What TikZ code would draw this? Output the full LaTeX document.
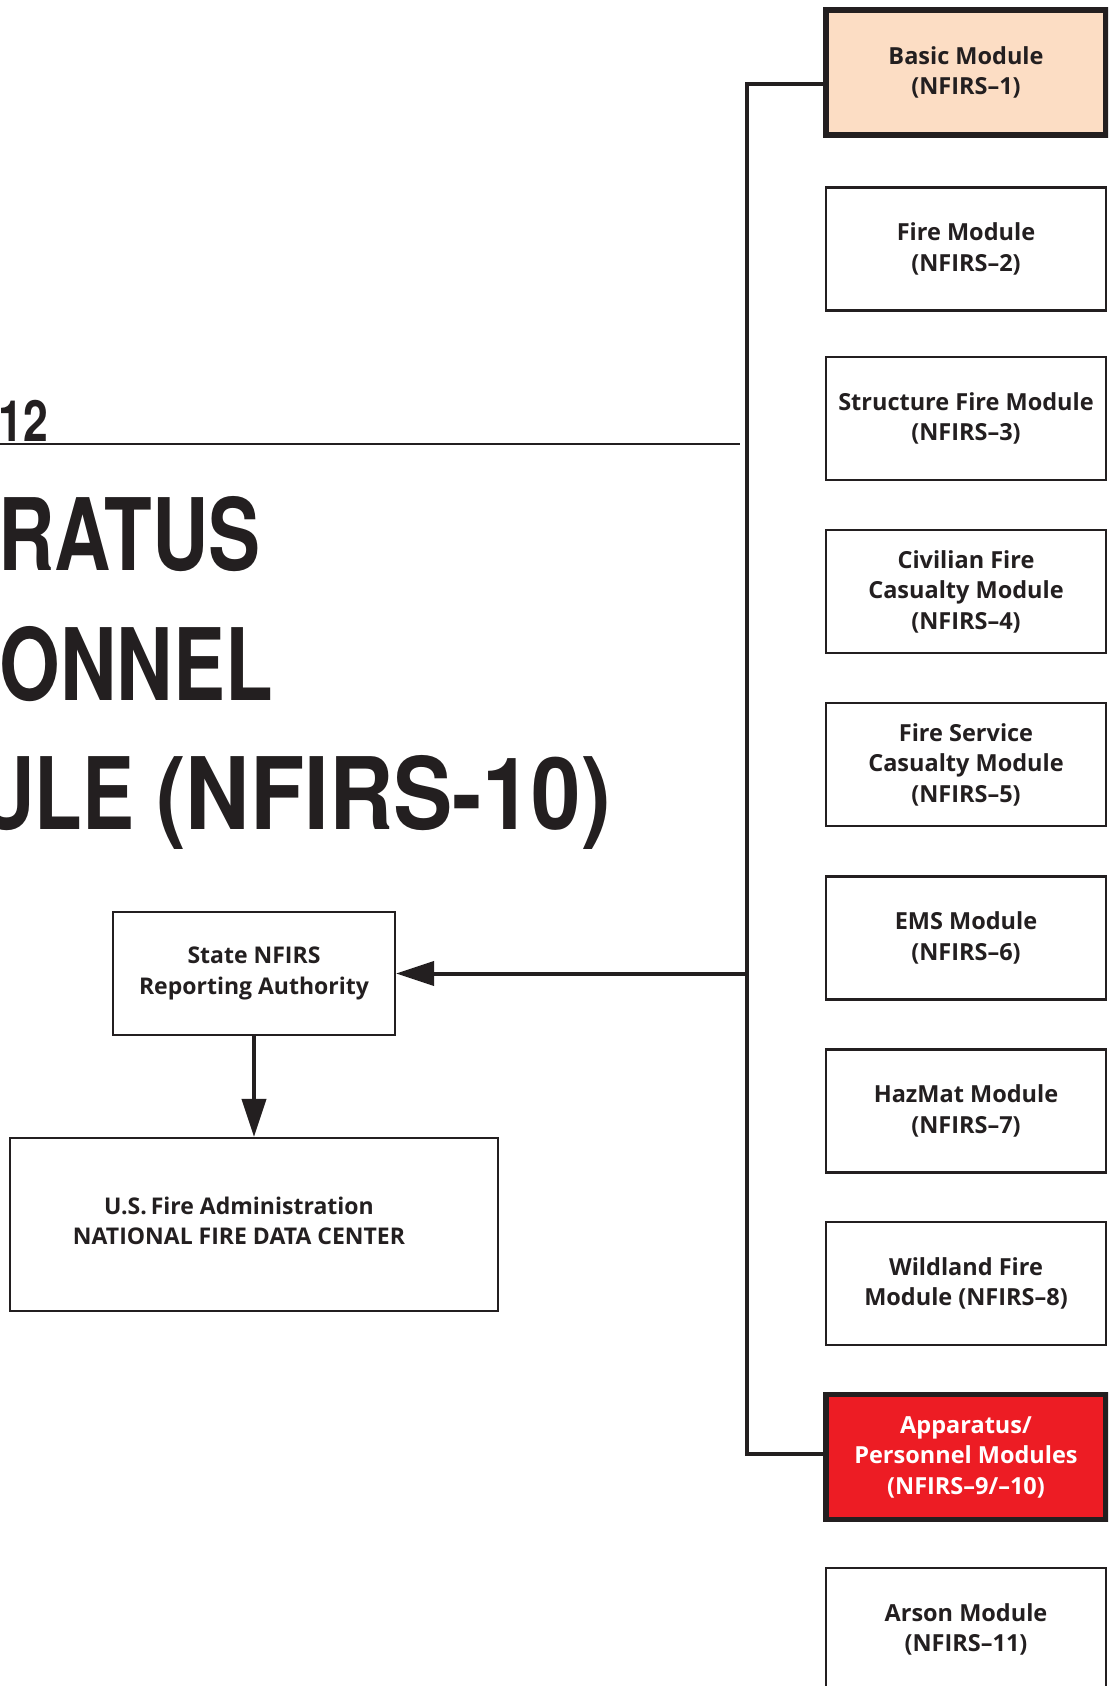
\documentclass[tikz,border=0pt]{standalone}
\usepackage{fontspec}
\usetikzlibrary{arrows.meta}
\newfontfamily\modfont{Open Sans}
\newfontfamily\titlefont{TeX Gyre Heros}[FakeStretch=0.78]
\definecolor{ink}{HTML}{231F20}
\definecolor{peach}{HTML}{FCDDC4}
\definecolor{nfred}{HTML}{ED1C24}
\begin{document}
\begin{tikzpicture}[x=1pt,y=-1pt,
  modbox/.style={draw=ink,line width=2.2pt,minimum width=280pt,minimum height=123pt,
    align=center,text=ink,inner sep=0pt,
    font=\modfont\bfseries\fontsize{23.5}{30.5}\selectfont},
  keybox/.style={modbox,line width=5.5pt,minimum height=125pt},
  sidebox/.style={draw=ink,line width=2.2pt,align=center,text=ink,inner sep=0pt,
    font=\modfont\bfseries\fontsize{23}{30.5}\selectfont},
  sidetext/.style={align=center,text=ink,inner sep=0pt,
    font=\modfont\bfseries\fontsize{23}{30.5}\selectfont},
  conn/.style={draw=ink,line width=4pt},
  tip/.style={-{Triangle[length=38pt,width=24pt]}},
  bigtitle/.style={anchor=base east,text=ink,inner sep=0pt,
    font=\titlefont\bfseries\fontsize{100}{100}\selectfont}
]
\useasboundingbox (0,0) rectangle (1108,1686);
\clip (0,0) rectangle (1108,1686);
\fill[white] (0,0) rectangle (1108,1686);

% title
\node[anchor=base east,text=ink,inner sep=0pt,
  font=\titlefont\bfseries\fontsize{57}{57}\selectfont] (fig) at (48,441) {12};
\draw[ink,line width=2.2pt] (0,444) -- (740,444);
\node[bigtitle] (t1) at (261,570) {RATUS};
\node[bigtitle] (t2) at (273,700) {ONNEL};
\node[bigtitle] (t3) at (611,829) {ULE \scalebox{1.14}[1]{(NFIRS-10)}};

% modules
\node[keybox,fill=peach] (basic) at (966,72.5) {Basic Module\\(NFIRS–1)};
\node[modbox] (fire) at (966,249) {Fire Module\\(NFIRS–2)};
\node[modbox] (struct) at (966,418.5) {Structure Fire Module\\(NFIRS–3)};
\node[modbox] (civ) at (966,591.5) {Civilian Fire\\Casualty Module\\(NFIRS–4)};
\node[modbox] (fsc) at (966,764.5) {Fire Service\\Casualty Module\\(NFIRS–5)};
\node[modbox] (ems) at (966,938) {EMS Module\\(NFIRS–6)};
\node[modbox] (haz) at (966,1111) {HazMat Module\\(NFIRS–7)};
\node[modbox] (wild) at (966,1283.5) {Wildland Fire\\Module (NFIRS–8)};
\node[keybox,fill=nfred,text=white] (app) at (966,1457) {Apparatus/\\Personnel Modules\\(NFIRS–9/–10)};
\node[modbox] (arson) at (966,1629.5) {Arson Module\\(NFIRS–11)};

% left boxes
\node[sidebox,minimum width=282pt,minimum height=123pt] (state) at (254,973.5) {State NFIRS\\Reporting Authority};
\node[sidebox,minimum width=488pt,minimum height=173pt] (usfa) at (254,1224.5) {};
\node[sidetext] (usfatext) at ([xshift=-15pt,yshift=3.5pt]usfa.center) {U.S.\,Fire Administration\\NATIONAL FIRE DATA CENTER};

% connectors
\coordinate (vt) at (747,84);
\coordinate (vb) at (747,1454);
\coordinate (vm) at (747,973.5);
\draw[conn] (basic.west |- vt) -- (vt) -- (vb) -- (app.west |- vb);
\draw[conn,tip] (vm) -- (state.east);
\draw[conn,tip] (state.south) -- (usfa.north);
\end{tikzpicture}
\end{document}
